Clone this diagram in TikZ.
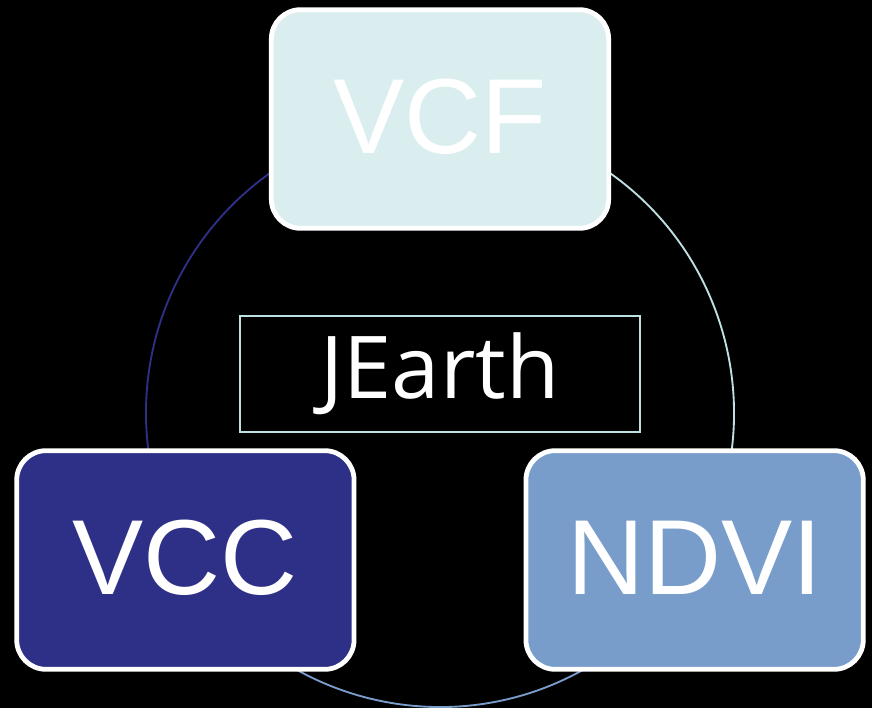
\documentclass[tikz,border=0pt]{standalone}
\usepackage{fontspec}
\setmainfont{Liberation Sans}
\newfontfamily\handfont{Open Sans}
\usetikzlibrary{backgrounds}

\definecolor{vcfcyan}{HTML}{DAEEF0}
\definecolor{vccblue}{HTML}{2E3087}
\definecolor{ndviblue}{HTML}{789DCB}
\definecolor{ringcyan}{HTML}{BFE0E3}

\begin{document}
\begin{tikzpicture}[x=0.75pt,y=0.75pt,
  layerbox/.style={draw=white,line width=3.6pt,rounded corners=22pt,
    minimum width=253pt,minimum height=164pt,text=white,
    font=\fontsize{80}{80}\selectfont},
  ring/.style={line width=1.4pt}]
\useasboundingbox (-440,-295) rectangle (432,413);
% the three layers sit on one circle of radius 294
\node[layerbox,fill=vcfcyan] (vcf) at (90:294) {\raisebox{4pt}{VCF}};
\node[layerbox,fill=vccblue] (vcc) at (210:294) {\raisebox{4pt}{VCC}};
\node[layerbox,fill=ndviblue] (ndvi) at (330:294) {\raisebox{4pt}{NDVI}};
\node[draw=ringcyan,line width=1.5pt,minimum width=300pt,minimum height=87pt,
  text=white,font=\handfont\fontsize{65}{65}\selectfont] (jearth) at (0,39) {\raisebox{-2pt}{JEarth}};

\begin{scope}[on background layer]
\fill[black] (-440,-295) rectangle (432,413);
\draw[ring,vccblue] (vcf.center) arc[start angle=90,end angle=210,radius=294];
\draw[ring,ndviblue] (vcc.center) arc[start angle=210,end angle=330,radius=294];
\draw[ring,ringcyan] (ndvi.center) arc[start angle=-30,end angle=90,radius=294];
\end{scope}
\end{tikzpicture}
\end{document}
